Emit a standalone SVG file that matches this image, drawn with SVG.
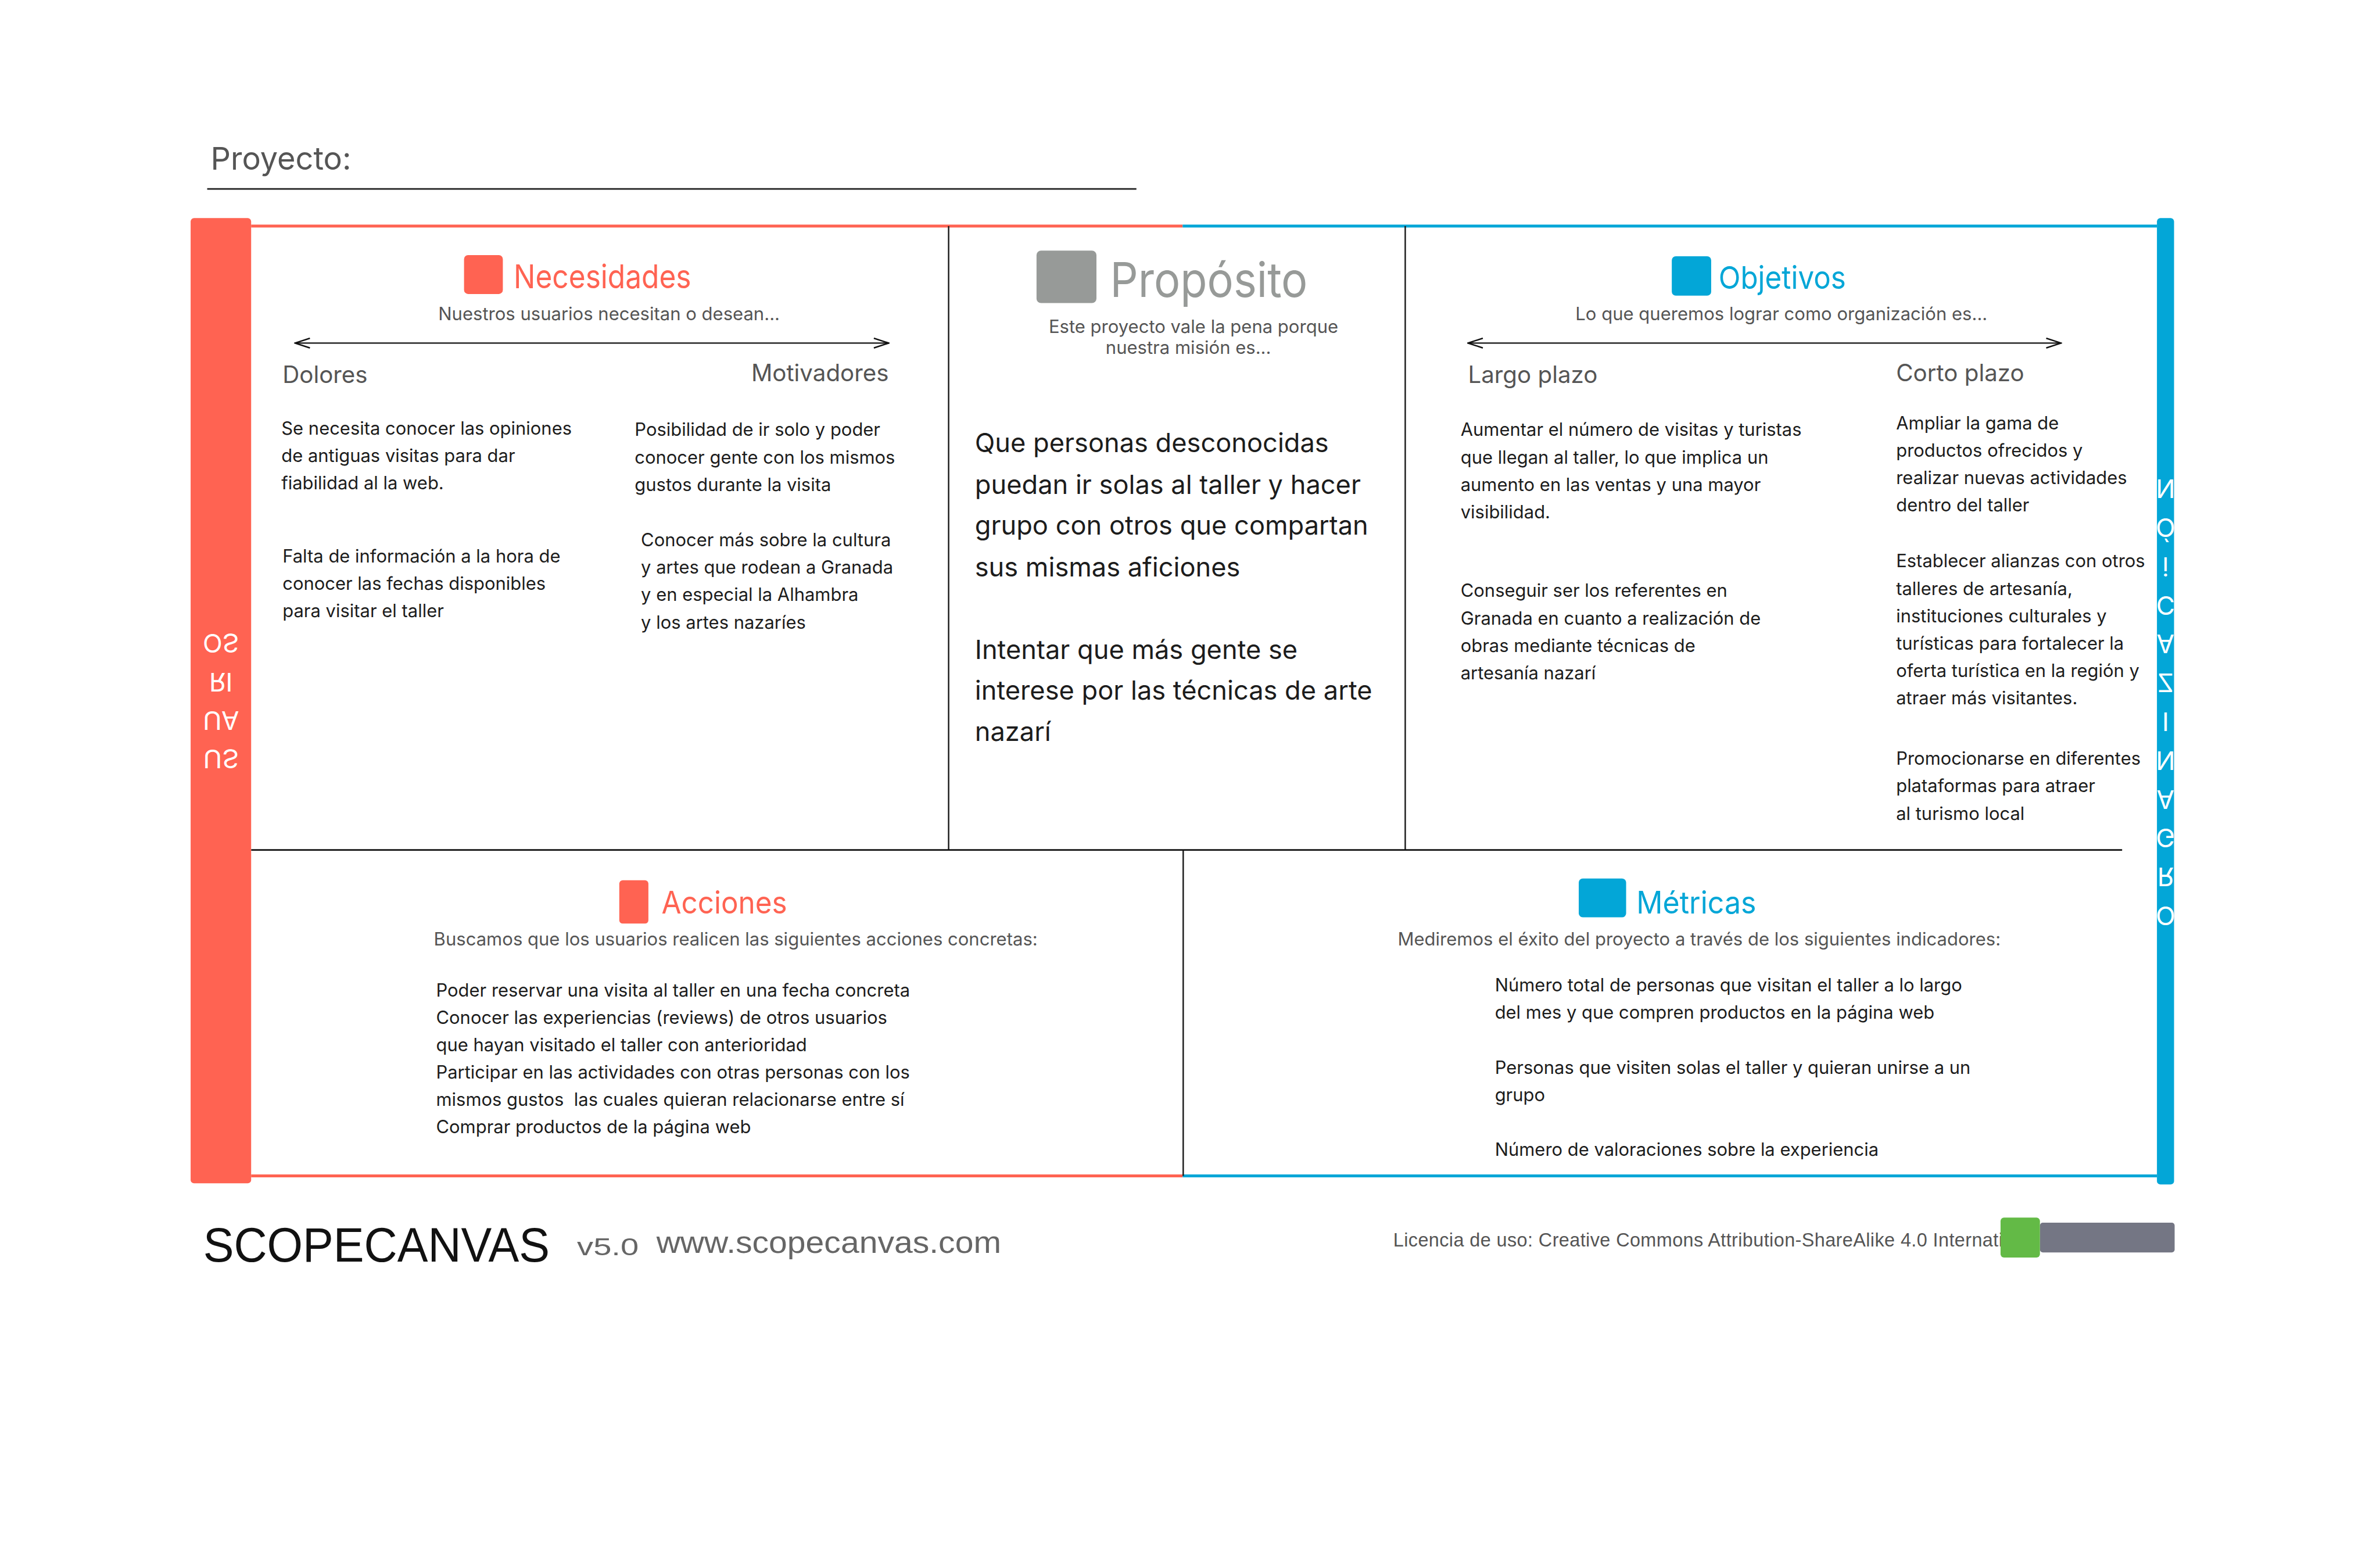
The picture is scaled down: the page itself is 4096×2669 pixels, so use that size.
<svg xmlns="http://www.w3.org/2000/svg" width="4096" height="2669" viewBox="0 0 4096 2669">
<defs>
<style>
text { font-family: Inter, "Liberation Sans", Arial, sans-serif; }
.lib { font-family: "Liberation Sans", Arial, sans-serif; }
.sub { font-size: 31.6px; fill: #555555; }
.col { font-size: 41px; fill: #555555; }
.body { font-size: 31.5px; fill: #1c1c1c; }
.big { font-size: 46px; fill: #1c1c1c; }
.to { fill: #FF6352; }
.tb { fill: #03A6D7; }
.div { stroke: #1a1a1a; stroke-width: 2.5; fill: none; }
.arrow { stroke: #111111; stroke-width: 2.5; fill: none; marker-start: url(#chev); marker-end: url(#chev); }
.vert { font-size: 45px; fill: #ffffff; }
</style>
<marker id="chev" viewBox="0 0 30 20" refX="28" refY="10" markerWidth="30" markerHeight="20" markerUnits="userSpaceOnUse" orient="auto-start-reverse">
<path d="M2,1.5 L28,10 L2,18.5" fill="none" stroke="#111111" stroke-width="2.5"/>
</marker>
</defs>
<rect width="4096" height="2669" fill="#ffffff"/>
<g transform="scale(0.9823)">
<g id="header">
<text x="369" y="297" style="font-size:55px;fill:#555555">Proyecto:</text>
<line x1="363" y1="331" x2="1991" y2="331" stroke="#222222" stroke-width="3"/>
</g>
<g id="frame">
<line x1="440" y1="396" x2="2072" y2="396" stroke="#FF6352" stroke-width="5"/>
<line x1="2072" y1="396" x2="3779" y2="396" stroke="#03A6D7" stroke-width="5"/>
<line x1="440" y1="2060" x2="2072" y2="2060" stroke="#FF6352" stroke-width="5"/>
<line x1="2072" y1="2060" x2="3779" y2="2060" stroke="#03A6D7" stroke-width="5"/>
<line class="div" x1="1662" y1="396" x2="1662" y2="1489"/>
<line class="div" x1="2462" y1="396" x2="2462" y2="1489"/>
<line class="div" x1="2073" y1="1489" x2="2073" y2="2060"/>
<line x1="440" y1="1489" x2="3718" y2="1489" stroke="#111111" stroke-width="3"/>
</g>
<g id="usuarios">
<rect x="334" y="382" width="106" height="1691" rx="6" fill="#FF6352"/>
<g transform="matrix(1 0 0 -1 0 2458)">
<text class="vert" text-anchor="middle"><tspan x="387" y="1144.5">US</tspan><tspan x="387" y="1212">UA</tspan><tspan x="387" y="1279.5">RI</tspan><tspan x="387" y="1347">OS</tspan></text>
</g>
</g>
<g id="organizacion">
<rect x="3779" y="382" width="30" height="1693" rx="6" fill="#03A6D7"/>
<g transform="matrix(1 0 0 -1 0 2460)">
<text class="vert" text-anchor="middle"><tspan x="3794" y="872">O</tspan><tspan x="3794" y="940">R</tspan><tspan x="3794" y="1008">G</tspan><tspan x="3794" y="1076">A</tspan><tspan x="3794" y="1144">N</tspan><tspan x="3794" y="1212">I</tspan><tspan x="3794" y="1280">Z</tspan><tspan x="3794" y="1348">A</tspan><tspan x="3794" y="1416">C</tspan><tspan x="3794" y="1484">i</tspan><tspan x="3794" y="1552">Ó</tspan><tspan x="3794" y="1620">N</tspan></text>
</g>
</g>
<g id="necesidades">
<rect x="813" y="447" width="68" height="68" rx="7" fill="#FF6352"/>
<text class="to" x="900" y="505" style="font-size:57px" textLength="311" lengthAdjust="spacingAndGlyphs">Necesidades</text>
<text class="sub" x="1067" y="561" text-anchor="middle">Nuestros usuarios necesitan o desean...</text>
<text class="col" x="495" y="671">Dolores</text>
<text class="col" x="1557" y="668" text-anchor="end">Motivadores</text>
<text class="body"><tspan x="493" y="761">Se necesita conocer las opiniones</tspan><tspan x="493" y="809">de antiguas visitas para dar</tspan><tspan x="493" y="857">fiabilidad al la web.</tspan></text>
<text class="body"><tspan x="495" y="985">Falta de información a la hora de</tspan><tspan x="495" y="1033">conocer las fechas disponibles</tspan><tspan x="495" y="1081">para visitar el taller</tspan></text>
<text class="body"><tspan x="1112" y="764">Posibilidad de ir solo y poder</tspan><tspan x="1112" y="812">conocer gente con los mismos</tspan><tspan x="1112" y="860">gustos durante la visita</tspan></text>
<text class="body"><tspan x="1123" y="957">Conocer más sobre la cultura</tspan><tspan x="1123" y="1005">y artes que rodean a Granada</tspan><tspan x="1123" y="1053">y en especial la Alhambra</tspan><tspan x="1123" y="1101">y los artes nazaríes</tspan></text>
</g>
<g id="proposito">
<rect x="1816" y="439" width="105" height="92" rx="8" fill="#979A98"/>
<text x="1945" y="520" style="font-size:84px;fill:#979A98" textLength="346" lengthAdjust="spacingAndGlyphs">Propósito</text>
<text class="sub" text-anchor="middle"><tspan x="2091" y="583">Este proyecto vale la pena porque</tspan><tspan x="2082" y="620">nuestra misión es...</tspan></text>
<text class="big"><tspan x="1708" y="792">Que personas desconocidas</tspan><tspan x="1708" y="865">puedan ir solas al taller y hacer</tspan><tspan x="1708" y="937">grupo con otros que compartan</tspan><tspan x="1708" y="1010">sus mismas aficiones</tspan></text>
<text class="big"><tspan x="1708" y="1154">Intentar que más gente se</tspan><tspan x="1708" y="1226">interese por las técnicas de arte</tspan><tspan x="1708" y="1298">nazarí</tspan></text>
</g>
<g id="objetivos">
<rect x="2929" y="449" width="69" height="69" rx="7" fill="#03A6D7"/>
<text class="tb" x="3011" y="506" style="font-size:55px" textLength="223" lengthAdjust="spacingAndGlyphs">Objetivos</text>
<text class="sub" x="3121" y="561" text-anchor="middle">Lo que queremos lograr como organización es...</text>
<text class="col" x="2572" y="671">Largo plazo</text>
<text class="col" x="3322" y="668">Corto plazo</text>
<text class="body"><tspan x="2559" y="764">Aumentar el número de visitas y turistas</tspan><tspan x="2559" y="812">que llegan al taller, lo que implica un</tspan><tspan x="2559" y="860">aumento en las ventas y una mayor</tspan><tspan x="2559" y="908">visibilidad.</tspan></text>
<text class="body"><tspan x="2559" y="1046">Conseguir ser los referentes en</tspan><tspan x="2559" y="1094">Granada en cuanto a realización de</tspan><tspan x="2559" y="1142">obras mediante técnicas de</tspan><tspan x="2559" y="1190">artesanía nazarí</tspan></text>
<text class="body"><tspan x="3322" y="752">Ampliar la gama de</tspan><tspan x="3322" y="800">productos ofrecidos y</tspan><tspan x="3322" y="848">realizar nuevas actividades</tspan><tspan x="3322" y="896">dentro del taller</tspan></text>
<text class="body"><tspan x="3322" y="994">Establecer alianzas con otros</tspan><tspan x="3322" y="1042">talleres de artesanía,</tspan><tspan x="3322" y="1090">instituciones culturales y</tspan><tspan x="3322" y="1138">turísticas para fortalecer la</tspan><tspan x="3322" y="1186">oferta turística en la región y</tspan><tspan x="3322" y="1234">atraer más visitantes.</tspan></text>
<text class="body"><tspan x="3322" y="1340">Promocionarse en diferentes</tspan><tspan x="3322" y="1388">plataformas para atraer</tspan><tspan x="3322" y="1436">al turismo local</tspan></text>
</g>
<g id="acciones">
<rect x="1085" y="1542" width="51" height="76" rx="6" fill="#FF6352"/>
<text class="to" x="1159" y="1600" style="font-size:54px" textLength="220" lengthAdjust="spacingAndGlyphs">Acciones</text>
<text class="sub" x="1289" y="1656" text-anchor="middle">Buscamos que los usuarios realicen las siguientes acciones concretas:</text>
<text class="body"><tspan x="764" y="1746">Poder reservar una visita al taller en una fecha concreta</tspan><tspan x="764" y="1794">Conocer las experiencias (reviews) de otros usuarios</tspan><tspan x="764" y="1842">que hayan visitado el taller con anterioridad</tspan><tspan x="764" y="1889">Participar en las actividades con otras personas con los</tspan><tspan x="764" y="1937">mismos gustos&#160; las cuales quieran relacionarse entre sí</tspan><tspan x="764" y="1985">Comprar productos de la página web</tspan></text>
</g>
<g id="metricas">
<rect x="2766" y="1539" width="83" height="68" rx="7" fill="#03A6D7"/>
<text class="tb" x="2867" y="1600" style="font-size:54px" textLength="210" lengthAdjust="spacingAndGlyphs">Métricas</text>
<text class="sub" x="2977" y="1656" text-anchor="middle">Mediremos el éxito del proyecto a través de los siguientes indicadores:</text>
<text class="body"><tspan x="2619" y="1737">Número total de personas que visitan el taller a lo largo</tspan><tspan x="2619" y="1785">del mes y que compren productos en la página web</tspan><tspan x="2619" y="1881">Personas que visiten solas el taller y quieran unirse a un</tspan><tspan x="2619" y="1929">grupo</tspan><tspan x="2619" y="2025">Número de valoraciones sobre la experiencia</tspan></text>
</g>
<g id="connectors">
<line class="arrow" x1="517" y1="601" x2="1557" y2="601"/>
<line class="arrow" x1="2572" y1="601" x2="3611" y2="601"/>
</g>
<g id="footer">
<text class="lib" x="356" y="2210" style="font-size:84px;fill:#111111" textLength="607" lengthAdjust="spacingAndGlyphs">SCOPECANVAS</text>
<text class="lib" x="1011" y="2199" style="font-size:44px;fill:#666666" textLength="108" lengthAdjust="spacingAndGlyphs">v5.0</text>
<text class="lib" x="1150" y="2195" style="font-size:53px;fill:#666666" textLength="604" lengthAdjust="spacingAndGlyphs">www.scopecanvas.com</text>
<text class="lib" x="2441" y="2184" style="font-size:33px;fill:#555555" textLength="1068">Licencia de uso: Creative Commons Attribution-ShareAlike 4.0 Internati</text>
<rect x="3574" y="2142" width="236" height="52" rx="5" fill="#747684"/>
<rect x="3505" y="2133" width="69" height="70" rx="6" fill="#63BA46"/>
</g>
</g>
</svg>
